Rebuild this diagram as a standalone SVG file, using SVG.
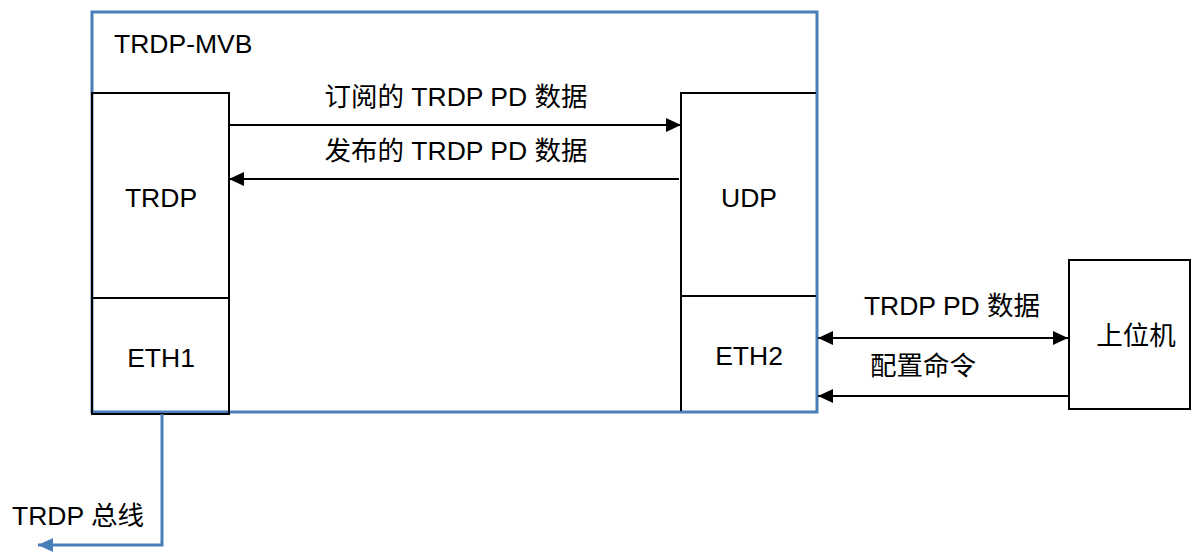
<svg xmlns="http://www.w3.org/2000/svg" width="1191" height="552" viewBox="0 0 1191 552">
<style>
.t{font-family:"Liberation Sans","Noto Sans CJK SC",sans-serif;font-size:26.5px;fill:#000}
.m{text-anchor:middle}
.box{fill:none;stroke:#000;stroke-width:2}
.blue{fill:none;stroke:#4a7ebb;stroke-width:3}
.arr{fill:none;stroke:#000;stroke-width:2}
</style>
<defs>
<marker id="ah" viewBox="0 0 15 14" refX="15" refY="7" markerWidth="15" markerHeight="14" markerUnits="userSpaceOnUse" orient="auto-start-reverse">
<path d="M0,0 L15,7 L0,14 Z" fill="#000"/>
</marker>
<marker id="bh" viewBox="0 0 15 14" refX="15" refY="7" markerWidth="15" markerHeight="14" markerUnits="userSpaceOnUse" orient="auto">
<path d="M0,0 L15,7 L0,14 Z" fill="#4a7ebb"/>
</marker>
</defs>
<g id="trdp-mvb">
<rect class="blue" x="92" y="12" width="725" height="400"/>
<text class="t" x="114" y="53">TRDP-MVB</text>
</g>
<g id="trdp">
<rect class="box" x="92" y="93" width="137" height="205"/>
<text class="t m" x="161" y="207">TRDP</text>
</g>
<g id="eth1">
<rect class="box" x="92" y="298" width="137" height="116"/>
<text class="t m" x="161" y="367">ETH1</text>
</g>
<g id="udp">
<path class="box" d="M816,93 H681 V296 H816"/>
<text class="t m" x="749" y="207">UDP</text>
</g>
<g id="eth2">
<path class="box" d="M681,296 V411"/>
<text class="t m" x="749" y="365">ETH2</text>
</g>
<g id="host">
<rect class="box" x="1069" y="260" width="121" height="149"/>
<text class="t m" x="1136" y="345">上位机</text>
</g>
<g id="connectors">
<line class="arr" x1="229" y1="125" x2="681" y2="125" marker-end="url(#ah)"/>
<line class="arr" x1="679" y1="179" x2="229" y2="179" marker-end="url(#ah)"/>
<line class="arr" x1="818" y1="338" x2="1068" y2="338" marker-start="url(#ah)" marker-end="url(#ah)"/>
<line class="arr" x1="1068" y1="396" x2="818" y2="396" marker-end="url(#ah)"/>
<path class="blue" d="M162,414 V545 H38" marker-end="url(#bh)"/>
<text class="t m" x="456" y="106">订阅的 TRDP PD 数据</text>
<text class="t m" x="456" y="160">发布的 TRDP PD 数据</text>
<text class="t m" x="952" y="315">TRDP PD 数据</text>
<text class="t" x="870" y="375">配置命令</text>
<text class="t" x="12" y="525">TRDP 总线</text>
</g>
</svg>
